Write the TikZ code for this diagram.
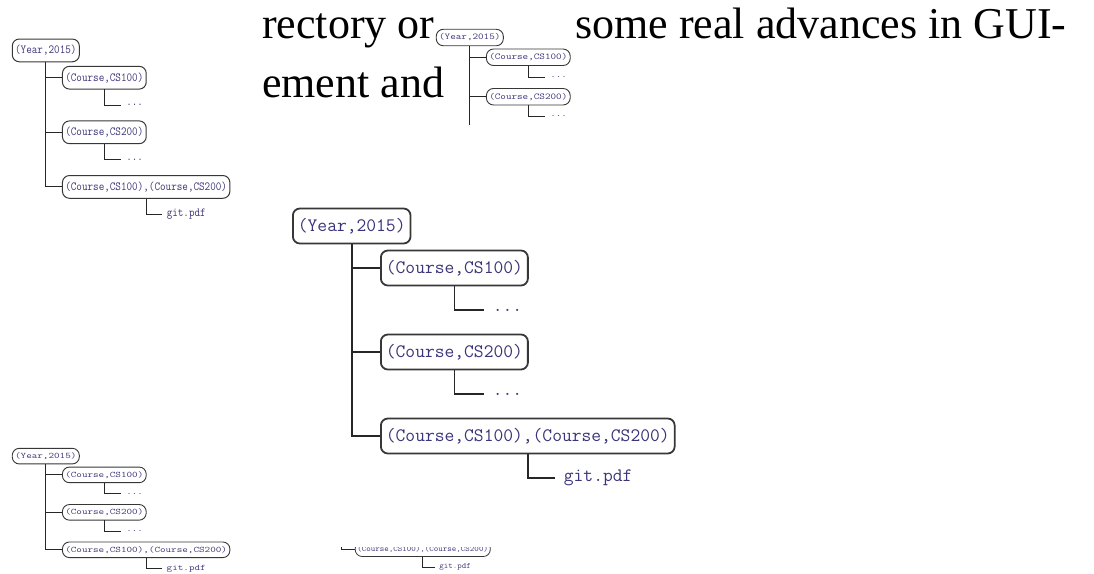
\documentclass[tikz,border=0pt]{standalone}
\usepackage{fontspec}
\setmainfont{Liberation Serif}
\usetikzlibrary{positioning}

\definecolor{treeink}{RGB}{58,52,120}
\definecolor{boxrim}{RGB}{55,55,55}

% one copy of the year tree, #1 prefixes the node names
\newcommand{\yeartree}[1]{%
    \node[Label] (#1yr) at (0,16) {(Year,2015)};
    \node[Label] (#1ca) at (88,58) {(Course,CS100)};
    \node[Leaf] (#1da) at (192,100) {...};
    \node[Label] (#1cb) at (88,142) {(Course,CS200)};
    \node[Leaf] (#1db) at (192,184) {...};
    \node[Label] (#1cc) at (88,226) {(Course,CS100),(Course,CS200)};
    \node[Leaf] (#1pdf) at (263,268) {git.pdf};

    \draw[Branch] (#1yr.south) |- (#1ca.west);
    \draw[Branch] (#1yr.south) |- (#1cb.west);
    \draw[Branch] (#1yr.south) |- (#1cc.west);
    \draw[Branch] (#1ca.south) |- (#1da.west);
    \draw[Branch] (#1cb.south) |- (#1db.west);
    \draw[Branch] (#1cc.south) |- (#1pdf.west);
}

\begin{document}
\begin{tikzpicture}[x=1pt,y=-1pt]
    \tikzset{Label/.style={%
        draw=boxrim,%
        fill=white,%
        rounded corners=7pt,%
        minimum height=35pt,%
        inner xsep=5pt,%
        inner ysep=0pt,%
        anchor=west,%
        text=treeink,%
        font=\fontsize{19}{19}\selectfont\ttfamily,%
    }}
    \tikzset{Leaf/.style={%
        anchor=west,%
        inner xsep=8pt,%
        inner ysep=0pt,%
        text=treeink,%
        font=\fontsize{19}{19}\selectfont\ttfamily,%
    }}
    \tikzset{Branch/.style={draw=black!85}}
    \tikzset{Prose/.style={anchor=base west, inner sep=0pt,
        font=\fontsize{44}{44}\selectfont}}

    \useasboundingbox (0,0) rectangle (1094,573);

    \node[Prose] (rowa) at (262,38) {rectory or};
    \node[Prose] (rowb) at (575,38) {some real advances in GUI-};
    \node[Prose] (rowc) at (262,97) {ement and};

    % big copy
    \begin{scope}[shift={(292,210)}, line width=1.8pt]
        \yeartree{m}
    \end{scope}

    % small copies
    \begin{scope}[shift={(12,40)}, xscale=.57, yscale=.65, transform shape, line width=1pt]
        \yeartree{a}
    \end{scope}
    \begin{scope}[shift={(12,449)}, xscale=.57, yscale=.446, transform shape, line width=.9pt]
        \yeartree{c}
    \end{scope}

    % cut copies
    \begin{scope}
        \clip (425,20) rectangle (600,124);
        \begin{scope}[shift={(436,30)}, xscale=.57, yscale=.47, transform shape, line width=.9pt]
            \yeartree{b}
        \end{scope}
    \end{scope}
    \begin{scope}
        \clip (336,547) rectangle (530,573);
        \begin{scope}[shift={(314.5,451.8)}, xscale=.46, yscale=.43, transform shape, line width=.8pt]
            \yeartree{d}
        \end{scope}
    \end{scope}
\end{tikzpicture}
\end{document}
